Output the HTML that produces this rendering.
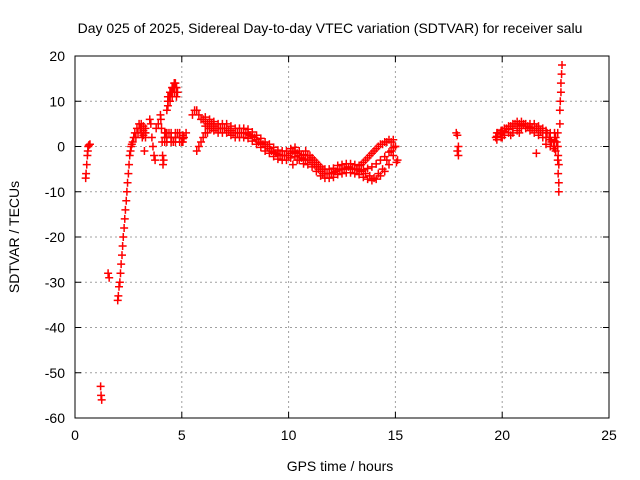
<!DOCTYPE html>
<html><head><meta charset="utf-8"><style>
body{margin:0;background:#fff}
svg{display:block;font-family:"Liberation Sans",sans-serif}
</style></head><body>
<svg id="chart" width="640" height="480">
<text x="330" y="33" font-size="14" text-anchor="middle">Day 025 of 2025, Sidereal Day-to-day VTEC variation (SDTVAR) for receiver salu</text>
<text x="340" y="471" font-size="14" text-anchor="middle">GPS time / hours</text>
<text transform="translate(19,237) rotate(-90)" font-size="14" text-anchor="middle">SDTVAR / TECUs</text>
<g id="grid"></g><g id="ticks"></g><g id="pts"></g>
<rect x="75" y="56" width="534" height="362" fill="none" stroke="#000"/>
</svg>
<script>
const xTicks=[0,5,10,15,20,25];
const yTicks=[20,10,0,-10,-20,-30,-40,-50,-60];
const hours=[0.5,0.52,0.55,0.58,0.6,0.62,0.65,0.7,1.2,1.22,1.25,1.55,1.6,
2.0,2.03,2.06,2.1,2.13,2.16,2.2,2.23,2.26,2.3,2.33,2.36,2.4,2.43,2.46,2.5,2.53,2.56,2.6,2.63,2.66,2.7,2.75,2.8,2.85,2.9,2.95,3.0,3.05,3.1,3.15,3.2,3.25,3.3,
3.5,3.55,3.6,3.65,3.7,3.75,3.8,3.9,4.0,4.02,4.05,4.08,4.1,4.12,4.15,4.2,4.25,4.3,4.35,4.4,4.45,4.5,4.55,4.6,4.65,4.7,4.75,4.8,4.4,4.5,4.6,4.7,4.8,4.9,5.0,5.1,5.2,
5.5,5.6,5.7,5.8,5.9,5.7,5.8,5.9,6.0,6.1,6.2,6.3,6.4,6.5,
6.0,6.2,6.4,6.6,6.8,7.0,7.2,7.4,7.6,7.8,8.0,8.2,8.4,8.6,8.8,9.0,9.2,9.4,9.6,9.8,10.0,10.2,10.4,10.6,10.8,11.0,11.2,11.4,11.6,11.8,12.0,12.2,12.4,12.6,12.8,13.0,13.2,13.4,13.6,13.8,14.0,14.2,14.4,14.6,14.8,15.0,
10.2,10.4,10.6,10.8,11.0,11.2,11.4,11.6,13.2,13.4,13.6,13.8,14.0,14.2,14.4,14.6,14.8,15.0,15.1,15.05,
17.85,17.9,17.95,17.9,17.95,
19.7,19.8,19.9,20.0,20.2,20.4,20.6,20.8,21.0,21.2,21.4,21.6,21.8,20.0,20.4,20.8,21.6,21.7,
22.1,22.2,22.3,22.4,22.5,22.5,22.55,22.6,22.6,22.62,22.65,22.65,22.7,22.7,22.72,22.75,22.75,22.78,22.8,22.6,22.62,22.65];
const values=[-7,-6,-4,-2,-1,0,0.3,0.5,-53,-55,-56,-28,-29,
-34,-33,-31,-30,-28,-26,-24,-22,-20,-18,-16,-14,-12,-10,-8,-6,-4,-2,-1,0,0.5,1,2,3,2,4,3,5,4,3,2,4,-1,3,
6,5,2,0,-2,-3,4,5,7,6,4,1,-2,-4,-3,2,3,8,10,11,12,12,13,13,14,14,13,12,3,2,1,2,3,2,1,2,3,
7,8,8,7,6,-1,0,1,2,3,3,4,4,5,
6,5,5,4,4,4,3.5,3,3,3,3,2.5,2,1,0.5,0,-1,-1.5,-2,-2,-2,-1,-1.5,-2.5,-3,-3,-4,-5,-6,-6,-6,-5.5,-5,-5,-4.5,-5,-5,-5.5,-6,-6.5,-7,-6,-5,-3,-1,0,
-4,-3,-2,-1,-2,-3,-4,-5,-5,-4,-3,-2,-1,0,0.5,1,1,0,-3,-3.5,
3,2.5,0,-1,-2,
2,3,3,3.5,4,4.5,5,5,5,4.5,4,4,3.5,2,2.5,3,-1.5,4,
3,2,1,0,2,-1,1,3,-3,-6,-8,-10,5,8,10,12,14,16,18,0,-2,-4];
// band edges of the main arc (upper/lower envelope)
const bandHours=[6.1,6.3,6.5,6.7,6.9,7.1,7.3,7.5,7.7,7.9,8.1,8.3,8.5,8.7,8.9,9.1,9.3,9.5,9.7,9.9,10.1,10.3,10.5,10.7,10.9,11.1,11.3,11.5,11.7,11.9,12.1,12.3,12.5,12.7,12.9,13.1,13.3,13.5,13.7,13.9,14.1,14.3,14.5,14.7,14.9,
19.75,19.95,20.1,20.3,20.5,20.7,20.9,21.1,21.3,21.5,21.7,21.9,22.05,22.25,22.45,
3.1,3.2,3.3,4.2,4.3,4.5,4.7,4.9,5.05,4.35,4.45,4.55,4.65,4.75];
const bandUpper=[6.5,6,5.5,5,5,5,4.5,4,4,4,3.8,3.2,2.5,1.8,1,0.5,-0.2,-0.8,-1,-1,-0.5,-0.2,-1,-1.8,-2,-2.5,-3.5,-4.5,-5,-5,-4.8,-4.2,-4,-3.8,-3.8,-4,-4.2,-3.5,-2.5,-1.5,-0.5,0.5,1,1.5,1.5,
3,3.5,4,4.5,5,5.5,5.5,5,5,5,4.5,4,3.5,3,3,
5,4.5,4,3,3,3,3,3,2.5,11,12,13,14,13];
const bandLower=[4.5,4,3.5,3,3,3,2.5,2,2,2,1.8,1.2,0.5,-0.2,-1,-1.5,-2.2,-2.8,-3,-3,-2.5,-2.2,-3,-3.8,-4,-4.5,-5.5,-6.5,-7,-7,-6.8,-6.2,-6,-5.8,-5.8,-6,-6.2,-6.8,-7.2,-7.5,-7.2,-6.5,-5.5,-4,-2,
1.5,2,2.5,3,3,3.5,4,4,3.5,3,2.5,2,0.5,0,-0.5,
3,2.5,2,1,1,1,1,1,1,9,10,11,12,11];
const X0=75,X1=609,Y0=56,Y1=418;
function xs(h){return X0+(h-0)/25*(X1-X0);}
function ys(v){return Y1-(v+60)/80*(Y1-Y0);}
const NS="http://www.w3.org/2000/svg";
const grid=document.getElementById('grid'),ticks=document.getElementById('ticks'),pts=document.getElementById('pts');
function mk(t,a,p){const e=document.createElementNS(NS,t);for(const k in a)e.setAttribute(k,a[k]);p.appendChild(e);return e;}
xTicks.forEach(t=>{const x=xs(t);
 if(t>0&&t<25){const g=mk('line',{x1:x,x2:x,y1:Y0,y2:Y1,stroke:'#a0a0a0','stroke-dasharray':'2,3'},grid);
 
 }
 mk('line',{x1:x,x2:x,y1:Y1,y2:Y1-6,stroke:'#000'},ticks);
 mk('line',{x1:x,x2:x,y1:Y0,y2:Y0+6,stroke:'#000'},ticks);
 const l=mk('text',{x:x,y:Y1+22,'font-size':14,'text-anchor':'middle'},ticks);l.textContent=t;
 
 });
yTicks.forEach(t=>{const y=ys(t);
 if(t>-60&&t<20){const g=mk('line',{x1:X0,x2:X1,y1:y,y2:y,stroke:'#a0a0a0','stroke-dasharray':'2,3'},grid);
 
 }
 mk('line',{x1:X0,x2:X0+6,y1:y,y2:y,stroke:'#000'},ticks);
 mk('line',{x1:X1,x2:X1-6,y1:y,y2:y,stroke:'#000'},ticks);
 const l=mk('text',{x:X0-10,y:y+5,'font-size':14,'text-anchor':'end'},ticks);l.textContent=t;
 
 });
function plus(h,v){const x=xs(h),y=ys(v);
 const p=mk('path',{d:`M${x-4},${y}h8M${x},${y-4}v8`,stroke:'#f00','stroke-width':1.5,fill:'none'},pts);
 
 }
hours.forEach((h,i)=>plus(h,values[i]));
bandHours.forEach((h,i)=>{plus(h,bandUpper[i]);plus(h,bandLower[i]);plus(h,(bandUpper[i]+bandLower[i])/2);});
</script>
</body></html>
